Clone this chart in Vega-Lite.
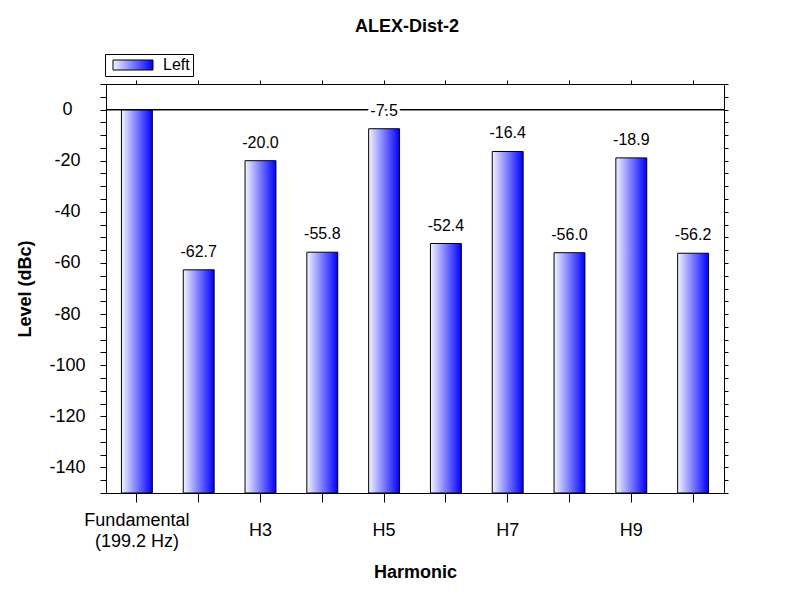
{
  "$schema": "https://vega.github.io/schema/vega-lite/v6.json",
  "width": 618,
  "height": 409,
  "autosize": {"type": "none"},
  "padding": {"left": 106, "top": 84, "right": 76, "bottom": 107},
  "background": "white",
  "config": {
    "font": "Liberation Sans",
    "view": {"stroke": null},
    "axis": {"domainColor": "black", "tickColor": "black", "labelColor": "black", "titleColor": "black", "grid": false, "labelFont": "Liberation Sans", "titleFont": "Liberation Sans"}
  },
  "title": {"text": "ALEX-Dist-2", "fontSize": 18, "fontWeight": "bold", "font": "Liberation Sans", "color": "black", "anchor": "middle", "offset": 18, "dx": -8},
  "data": {"values": [
    {"harmonic": "Fundamental", "level": 0, "label": "", "series": "Left"},
    {"harmonic": "H2", "level": -62.7, "label": "-62.7", "series": "Left"},
    {"harmonic": "H3", "level": -20.0, "label": "-20.0", "series": "Left"},
    {"harmonic": "H4", "level": -55.8, "label": "-55.8", "series": "Left"},
    {"harmonic": "H5", "level": -7.5, "label": "-7.5", "series": "Left"},
    {"harmonic": "H6", "level": -52.4, "label": "-52.4", "series": "Left"},
    {"harmonic": "H7", "level": -16.4, "label": "-16.4", "series": "Left"},
    {"harmonic": "H8", "level": -56.0, "label": "-56.0", "series": "Left"},
    {"harmonic": "H9", "level": -18.9, "label": "-18.9", "series": "Left"},
    {"harmonic": "H10", "level": -56.2, "label": "-56.2", "series": "Left"}
  ]},
  "resolve": {"axis": {"x": "independent", "y": "independent"}},
  "layer": [
    {
      "mark": {
        "type": "bar",
        "fill": {"gradient": "linear", "x1": 0, "x2": 1, "y1": 0, "y2": 0, "stops": [{"offset": 0, "color": "#f4f4ff"}, {"offset": 1, "color": "#0000ff"}]},
        "stroke": "black",
        "strokeWidth": 1
      },
      "encoding": {
        "x": {
          "field": "harmonic", "type": "nominal", "sort": null,
          "scale": {"paddingInner": 0.5, "paddingOuter": 0.25},
          "axis": {
            "orient": "bottom",
            "title": "Harmonic", "titleFontSize": 18, "titleFontWeight": "bold", "titlePadding": 13,
            "labelFontSize": 18, "labelAngle": 0, "labelBaseline": "middle", "labelPadding": 18, "labelLineHeight": 21,
            "labelOverlap": false, "labelBound": false, "labelFlush": false,
            "labelExpr": "datum.value == 'Fundamental' ? ['Fundamental', '(199.2 Hz)'] : ''",
            "tickSize": 9,
            "encode": {
              "ticks": {"update": {
                "y": {"signal": "indexof(['Fundamental','H3','H5','H7','H9'], datum.value) >= 0 ? -6 : 0"},
                "y2": {"signal": "indexof(['Fundamental','H3','H5','H7','H9'], datum.value) >= 0 ? 9 : 5"}
              }}
            }
          }
        },
        "y": {
          "field": "level", "type": "quantitative",
          "scale": {"domain": [-150, 10], "nice": false, "zero": false},
          "axis": {
            "orient": "left",
            "values": [10, 5, 0, -5, -10, -15, -20, -25, -30, -35, -40, -45, -50, -55, -60, -65, -70, -75, -80, -85, -90, -95, -100, -105, -110, -115, -120, -125, -130, -135, -140, -145, -150],
            "title": "Level (dBc)", "titleFontSize": 18, "titleFontWeight": "bold", "titlePadding": 14,
            "labelFontSize": 18, "labelAlign": "center", "labelBaseline": "middle", "labelPadding": 33,
            "labelOverlap": false, "labelBound": false, "labelFlush": false,
            "labelExpr": "datum.value % 20 === 0 ? '' + datum.value : ''",
            "tickSize": 6,
            "encode": {"ticks": {"update": {
              "x": {"signal": "datum.value % 20 === 0 ? 7 : 4"},
              "x2": {"signal": "datum.value % 20 === 0 ? -6 : -3"}
            }}}
          }
        },
        "y2": {"datum": -150},
        "stroke": {
          "field": "series", "type": "nominal",
          "scale": {"range": ["black"]},
          "legend": {
            "title": null, "orient": "none", "legendX": -1, "legendY": -30,
            "symbolType": "M-1,-1H7V1H-1Z", "symbolSize": 100, "symbolStrokeWidth": 1, "symbolOffset": 2,
            "labelFontSize": 16, "labelFont": "Liberation Sans", "labelColor": "black", "labelOffset": 37,
            "padding": 3, "strokeColor": "black", "fillColor": "white", "cornerRadius": 0,
            "encode": {"symbols": {"update": {
              "fill": {"value": {"gradient": "linear", "x1": 0, "x2": 1, "y1": 0, "y2": 0, "stops": [{"offset": 0, "color": "#f4f4ff"}, {"offset": 1, "color": "#0000ff"}]}},
              "stroke": {"value": "black"},
              "opacity": {"value": 1}
            }}}
          }
        }
      }
    },
    {
      "mark": {"type": "rule", "color": "black", "strokeWidth": 1},
      "encoding": {"y": {"datum": 0, "type": "quantitative", "axis": null}}
    },
    {
      "transform": [{"filter": "datum.label != ''"}],
      "mark": {"type": "text", "fontSize": 16, "baseline": "alphabetic", "dy": -13, "stroke": "white", "strokeWidth": 6, "fill": "white", "strokeJoin": "round"},
      "encoding": {
        "x": {
          "field": "harmonic", "type": "nominal", "sort": null,
          "axis": {
            "orient": "bottom", "title": null, "domain": false, "ticks": false, "tickSize": 0,
            "labelFontSize": 18, "labelAngle": 0, "labelBaseline": "middle", "labelPadding": 37,
            "labelOverlap": false, "labelBound": false, "labelFlush": false,
            "labelExpr": "indexof(['H3','H5','H7','H9'], datum.value) >= 0 ? datum.value : ''"
          }
        },
        "y": {"field": "level", "type": "quantitative", "axis": null},
        "text": {"field": "label"}
      }
    },
    {
      "transform": [{"filter": "datum.label != ''"}],
      "mark": {"type": "text", "fontSize": 16, "baseline": "alphabetic", "dy": -13, "fill": "black"},
      "encoding": {
        "x": {
          "field": "harmonic", "type": "nominal", "sort": null,
          "axis": {
            "orient": "top", "title": null, "labels": false, "tickSize": 4,
            "encode": {"ticks": {"update": {
              "y": {"value": 0},
              "y2": {"signal": "indexof(['Fundamental','H3','H5','H7','H9'], datum.value) >= 0 ? 7 : 4"}
            }}}
          }
        },
        "y": {
          "field": "level", "type": "quantitative",
          "axis": {
            "orient": "right", "title": null, "labels": false, "tickSize": 4,
            "values": [10, 5, 0, -5, -10, -15, -20, -25, -30, -35, -40, -45, -50, -55, -60, -65, -70, -75, -80, -85, -90, -95, -100, -105, -110, -115, -120, -125, -130, -135, -140, -145, -150],
            "encode": {"ticks": {"update": {"x": {"value": 0}, "x2": {"value": -4}}}}
          }
        },
        "text": {"field": "label"}
      }
    }
  ]
}
